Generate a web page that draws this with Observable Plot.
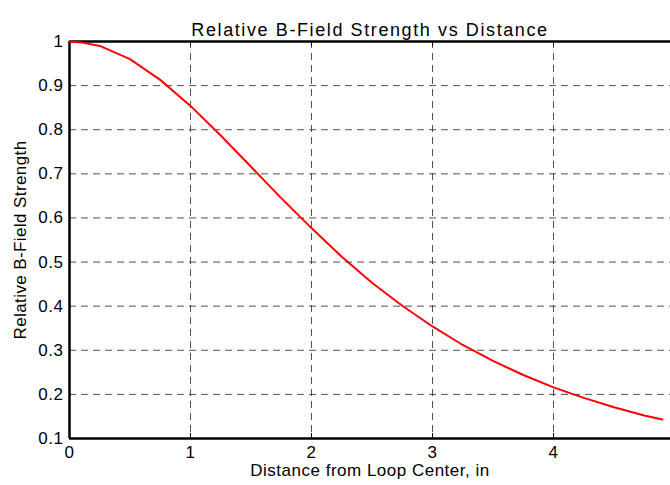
<!DOCTYPE html>
<html>
<head>
<meta charset="utf-8">
<script src="https://cdn.jsdelivr.net/npm/d3@7"></script>
<script src="https://cdn.jsdelivr.net/npm/@observablehq/plot@0.6"></script>
<style>
  html, body { margin: 0; padding: 0; background: #fff; overflow: hidden; }
  svg { display: block; }
</style>
</head>
<body>
<div id="chart"></div>
<script>
const title = "Relative B-Field Strength vs Distance";
const xLabel = "Distance from Loop Center, in";
const yLabel = "Relative B-Field Strength";

const distance = [0, 0.1, 0.25, 0.5, 0.75, 1.0, 1.25, 1.5, 1.75, 2.0, 2.25, 2.5, 2.75, 3.0, 3.25, 3.5, 3.75, 4.0, 4.25, 4.5, 4.75, 4.9];
const strength = [1.0, 0.998, 0.99, 0.96, 0.913, 0.854, 0.787, 0.716, 0.645, 0.577, 0.512, 0.453, 0.401, 0.354, 0.312, 0.276, 0.244, 0.216, 0.192, 0.171, 0.152, 0.143];

const xTicks = [0, 1, 2, 3, 4, 5];
const xTickLabels = ["0", "1", "2", "3", "4", "5"];
const yTicks = [0.1, 0.2, 0.3, 0.4, 0.5, 0.6, 0.7, 0.8, 0.9, 1];
const yTickLabels = ["0.1", "0.2", "0.3", "0.4", "0.5", "0.6", "0.7", "0.8", "0.9", "1"];

const data = distance.map((d, i) => ({x: d, y: strength[i]}));
const font = "'Liberation Sans', Arial, sans-serif";

const chart = Plot.plot({
  width: 670,
  height: 485,
  marginTop: 41,
  marginBottom: 47,
  marginLeft: 69,
  marginRight: 0,
  style: {fontFamily: font, fontSize: "17px", background: "#fff", color: "#000"},
  x: {domain: [0, 5], range: [69, 674]},
  y: {domain: [0.1, 1]},
  marks: [
    Plot.ruleY(yTicks.slice(1, -1), {stroke: "#333", strokeWidth: 1, strokeDasharray: "7,5", strokeOpacity: 0.85}),
    Plot.ruleX(xTicks.slice(1, -1), {stroke: "#333", strokeWidth: 1, strokeDasharray: "7,5", strokeOpacity: 0.85}),
    // inward ticks
    Plot.tickX(xTicks, {x: d => d, stroke: "#000", strokeWidth: 1, insetBottom: 392}),
    Plot.tickX(xTicks, {x: d => d, stroke: "#000", strokeWidth: 1, insetTop: 392}),
    Plot.tickY(yTicks, {y: d => d, stroke: "#000", strokeWidth: 1, insetRight: 600}),
    // frame
    Plot.ruleX([0], {stroke: "#000", strokeWidth: 2.5}),
    Plot.ruleY([0.1, 1], {stroke: "#000", strokeWidth: 2.5}),
    Plot.ruleX([5], {stroke: "#000", strokeWidth: 2.5}),
    // data
    Plot.line(data, {x: "x", y: "y", stroke: "#ff0000", strokeWidth: 2}),
    // tick labels
    Plot.axisX({ticks: xTicks, tickFormat: (d, i) => xTickLabels[i], tickSize: 0, tickPadding: 7, fontSize: 17, label: null}),
    Plot.axisY({ticks: yTicks, tickFormat: (d, i) => yTickLabels[i], tickSize: 0, tickPadding: 6, fontSize: 17, label: null}),
    // titles
    Plot.text([title], {frameAnchor: "top", dy: -18, fontSize: 18, fill: "#000"}),
    Plot.text([xLabel], {frameAnchor: "bottom", dy: 37, fontSize: 17, fill: "#000"}),
    Plot.text([yLabel], {frameAnchor: "left", dx: -49, rotate: -90, textAnchor: "middle", fontSize: 17, fill: "#000"})
  ]
});

// letter spacing to match the reference's wider glyph rendering
d3.select(chart).selectAll("text").each(function() {
  const t = this.textContent;
  let ls = "0.5px";
  if (t === title) ls = "1.6px";
  else if (t === yLabel) ls = "0.4px";
  else if (t === xLabel) ls = "0.5px";
  d3.select(this).style("letter-spacing", ls);
});
document.getElementById("chart").appendChild(chart);
</script>
</body>
</html>
